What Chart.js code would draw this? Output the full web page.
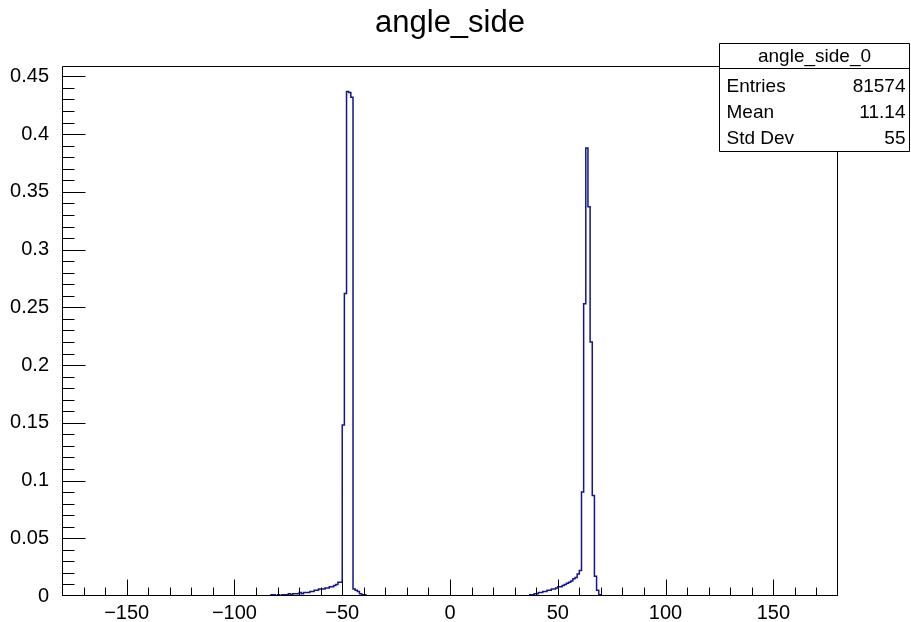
<!DOCTYPE html>
<html>
<head>
<meta charset="utf-8">
<title>angle_side</title>
<script src="https://cdn.jsdelivr.net/npm/chart.js@4"></script>
<style>
  html, body { margin: 0; padding: 0; background: #fff; }
  #chartBox { width: 911px; height: 622px; }
</style>
</head>
<body>
<div id="chartBox"><canvas id="angleChart" width="911" height="622"></canvas></div>
<script>
// histogram angle_side_0, 1 degree bins from -180 to 180
const xMin = -180;
const xMax = 180;
const binWidth = 1;
const yMax = 0.459;

// bin contents around the left peak, first bin starts at -83
const leftPeakStart = -83;
const leftPeakValues = [
    0.001, 0.001, 0, 0.001, 0, 0.001, 0.001, 0.001, 0.002, 0.001,
    0.002, 0.002, 0.002, 0.003, 0.002, 0.003, 0.003, 0.003, 0.004, 0.004,
    0.005, 0.005, 0.006, 0.006, 0.006, 0.007, 0.007, 0.008, 0.008, 0.009,
    0.010, 0.012, 0.012, 0.148, 0.262, 0.437, 0.436, 0.432, 0.006, 0.005,
    0.004, 0.002, 0.001, 0.001
];

// bin contents around the right peak, first bin starts at 37
const rightPeakStart = 37;
const rightPeakValues = [
    0.001, 0.001, 0.002, 0.002, 0.003, 0.003, 0.004, 0.004, 0.005, 0.005,
    0.006, 0.006, 0.007, 0.008, 0.008, 0.009, 0.010, 0.011, 0.012, 0.013,
    0.015, 0.016, 0.019, 0.022, 0.090, 0.253, 0.388, 0.337, 0.220, 0.087,
    0.017, 0.005, 0.001
];

const xTickLabels = [-150, -100, -50, 0, 50, 100, 150];
const yTickLabels = [0, 0.05, 0.1, 0.15, 0.2, 0.25, 0.3, 0.35, 0.4, 0.45];

const statsTitle = 'angle_side_0';
const statsNames = ['Entries', 'Mean', 'Std Dev'];
const statsValues = ['81574', '11.14', '55'];

const fontFamily = "'Liberation Sans', Arial, Helvetica, sans-serif";

function buildHistogram() {
    const nBins = (xMax - xMin) / binWidth;
    const contents = new Array(nBins).fill(0);
    leftPeakValues.forEach((v, i) => { contents[(leftPeakStart - xMin) / binWidth + i] = v; });
    rightPeakValues.forEach((v, i) => { contents[(rightPeakStart - xMin) / binWidth + i] = v; });
    const points = contents.map((v, i) => ({ x: xMin + i * binWidth, y: v }));
    points.push({ x: xMax, y: 0 });
    return points;
}

// ROOT style frame, inner ticks and stats box
const rootFrame = {
    id: 'rootFrame',
    afterDraw(chart) {
        const { ctx, chartArea: a, scales: { x, y } } = chart;
        const left = Math.round(a.left) + 0.5;
        const right = Math.round(a.right) - 0.5;
        const top = Math.round(a.top) + 0.5;
        const bottom = Math.round(a.bottom) - 0.5;

        ctx.save();
        ctx.strokeStyle = '#000';
        ctx.lineWidth = 1;
        ctx.beginPath();
        ctx.rect(left, top, right - left, bottom - top);

        for (let v = xMin + 10; v < xMax; v += 10) {
            const px = Math.round(x.getPixelForValue(v)) + 0.5;
            const len = v % 50 === 0 ? 16 : 8;
            ctx.moveTo(px, bottom);
            ctx.lineTo(px, bottom - len);
        }
        for (let k = 1; k * 0.01 < yMax; k++) {
            const py = Math.round(y.getPixelForValue(k * 0.01)) + 0.5;
            const len = k % 5 === 0 ? 23 : 12;
            ctx.moveTo(left, py);
            ctx.lineTo(left + len, py);
        }
        ctx.stroke();

        // stats box
        const bx = 719.5, by = 43.5, bw = 190, bh = 108;
        ctx.fillStyle = '#fff';
        ctx.fillRect(bx, by, bw, bh);
        ctx.beginPath();
        ctx.rect(bx, by, bw, bh);
        ctx.moveTo(bx, by + 25);
        ctx.lineTo(bx + bw, by + 25);
        ctx.stroke();

        ctx.fillStyle = '#000';
        ctx.font = '19px ' + fontFamily;
        ctx.textBaseline = 'middle';
        ctx.textAlign = 'center';
        ctx.fillText(statsTitle, bx + bw / 2, by + 13);
        statsNames.forEach((name, i) => {
            const ty = by + 43 + i * 26;
            ctx.textAlign = 'left';
            ctx.fillText(name, bx + 7, ty);
            ctx.textAlign = 'right';
            ctx.fillText(statsValues[i], bx + bw - 4, ty);
        });
        ctx.restore();
    }
};

const ctx = document.getElementById('angleChart').getContext('2d');
new Chart(ctx, {
    type: 'line',
    data: {
        datasets: [{
            label: 'angle_side_0',
            data: buildHistogram(),
            borderColor: '#141490',
            borderWidth: 1.5,
            pointRadius: 0,
            fill: false,
            stepped: true
        }]
    },
    options: {
        responsive: false,
        animation: false,
        layout: {
            padding: { left: 0, right: 73, top: 0, bottom: 0 }
        },
        scales: {
            x: {
                type: 'linear',
                min: xMin,
                max: xMax,
                grid: { display: false },
                border: { display: false },
                afterFit: axis => { axis.height = 26; },
                afterBuildTicks: axis => { axis.ticks = xTickLabels.map(v => ({ value: v })); },
                ticks: {
                    padding: -3,
                    color: '#000',
                    font: { family: fontFamily, size: 20 },
                    maxRotation: 0,
                    autoSkip: false,
                    callback: value => String(value).replace('-', '\u2212')
                }
            },
            y: {
                min: 0,
                max: yMax,
                grid: { display: false },
                border: { display: false },
                afterFit: axis => { axis.width = 62; },
                afterBuildTicks: axis => { axis.ticks = yTickLabels.map(v => ({ value: v })); },
                ticks: {
                    padding: 5,
                    color: '#000',
                    font: { family: fontFamily, size: 20 },
                    autoSkip: false,
                    callback: value => String(+value.toFixed(2))
                }
            }
        },
        plugins: {
            legend: { display: false },
            tooltip: { enabled: false },
            title: {
                display: true,
                fullSize: false,
                text: 'angle_side',
                color: '#000',
                font: { family: fontFamily, size: 31, weight: 'normal' },
                padding: { top: 5, bottom: 23.8 }
            }
        }
    },
    plugins: [rootFrame]
});
</script>
</body>
</html>
